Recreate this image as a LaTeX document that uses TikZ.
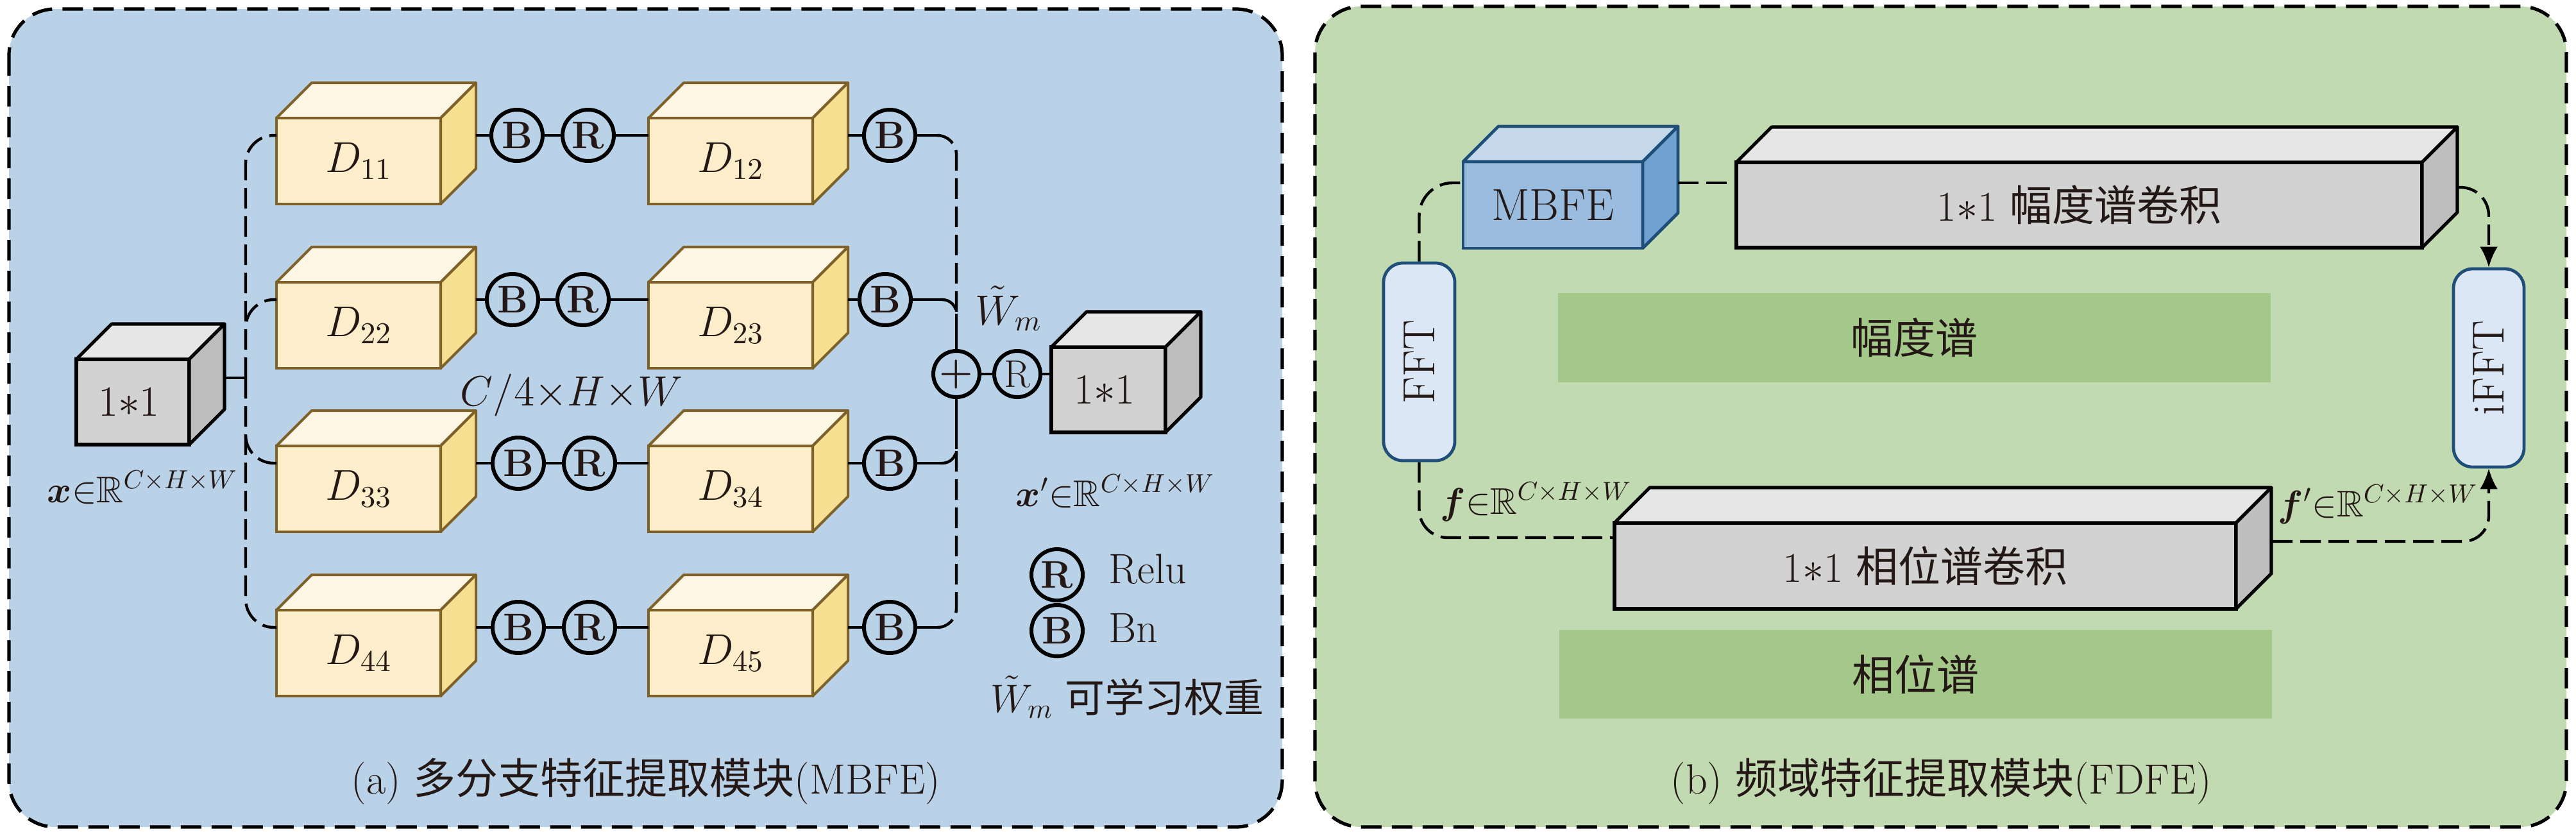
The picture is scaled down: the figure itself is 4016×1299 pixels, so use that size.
\documentclass[tikz,border=0pt]{standalone}
\usepackage{fix-cm}
\usepackage{amsmath,amssymb,bm}
\usepackage{graphicx}
\usepackage{fontspec}
\newfontfamily\cjk{Noto Sans CJK SC}
\usetikzlibrary{arrows.meta,calc}

\definecolor{tcol}{HTML}{231815}
\definecolor{bgA}{HTML}{BAD2E7}
\definecolor{bgB}{HTML}{C2DAB1}
\definecolor{bandc}{HTML}{A4C88A}
\definecolor{yfront}{HTML}{FCEECB}
\definecolor{ytop}{HTML}{FDF6E4}
\definecolor{yside}{HTML}{F6DF91}
\definecolor{ybord}{HTML}{7E6029}
\definecolor{gfront}{HTML}{D2D2D2}
\definecolor{gtop}{HTML}{E6E6E6}
\definecolor{gside}{HTML}{BEBEBE}
\definecolor{bfront}{HTML}{9ABCDF}
\definecolor{btop}{HTML}{C6D9EC}
\definecolor{bside}{HTML}{71A1D0}
\definecolor{bbord}{HTML}{1F4E79}
\definecolor{fftc}{HTML}{DBE7F4}

\newcommand{\fD}{\fontsize{16.8pt}{19pt}\selectfont}
\newcommand{\fM}{\fontsize{14.5pt}{17pt}\selectfont}
\newcommand{\fC}{\fontsize{16.5pt}{19pt}\selectfont}

\newcommand{\mycube}[6]{%
  \node[#5front, minimum width=#3, minimum height=#4] (#1) at #2 {#6};
  \filldraw[#5top] (#1.north west) -- ++(55,-55) -- ($(#1.north east)+(55,-55)$) -- (#1.north east) -- cycle;
  \filldraw[#5side] (#1.north east) -- ($(#1.north east)+(55,-55)$) -- ($(#1.south east)+(55,-55)$) -- (#1.south east) -- cycle;
}

\begin{document}
\begin{tikzpicture}[x=0.25pt,y=-0.25pt,
  every node/.append style={text=tcol},
  conn/.style={line width=1.1pt, draw=black},
  dconn/.style={conn, dash pattern=on 8pt off 3pt},
  arr/.style={-{Latex[length=8pt,width=7pt]}},
  panel/.style={line width=1.3pt, draw=black, dash pattern=on 8pt off 4pt, rounded corners=18pt},
  yelfront/.style={draw=ybord, fill=yfront, line width=1pt, inner sep=0pt, outer sep=0pt, font=\fD},
  yeltop/.style={draw=ybord, fill=ytop, line width=1pt, line join=round},
  yelside/.style={draw=ybord, fill=yside, line width=1pt, line join=round},
  grayfront/.style={draw=black, fill=gfront, line width=1.3pt, inner sep=0pt, outer sep=0pt, font=\fD},
  graytop/.style={draw=black, fill=gtop, line width=1.3pt, line join=round},
  grayside/.style={draw=black, fill=gside, line width=1.3pt, line join=round},
  bluefront/.style={draw=bbord, fill=bfront, line width=1.2pt, inner sep=0pt, outer sep=0pt, font=\fontsize{17.5pt}{20pt}\selectfont},
  bluetop/.style={draw=bbord, fill=btop, line width=1.2pt, line join=round},
  blueside/.style={draw=bbord, fill=bside, line width=1.2pt, line join=round},
  bc/.style={circle, draw=black, line width=1.5pt, minimum size=20pt, inner sep=0pt, font=\fontsize{15pt}{15pt}\selectfont\bfseries},
  band/.style={fill=bandc, inner sep=0pt, font=\fC\cjk},
  fftbox/.style={draw=bbord, fill=fftc, line width=1.2pt, rounded corners=7.5pt, inner sep=0pt, font=\fontsize{17.5pt}{20pt}\selectfont},
  lbl/.style={inner sep=0pt, font=\fC},
  mlbl/.style={inner sep=0pt, font=\fM}
]
\useasboundingbox (0,0) rectangle (4016,1299);

% panels
\draw[panel, fill=bgA] (14,14) rectangle (1999,1289);
\draw[panel, fill=bgB] (2050,10) rectangle (4001,1289);

% ===== left panel =====
\mycube{inp}{(207,626.5)}{44pt}{33.25pt}{gray}{1$*$1\hspace*{3pt}}

\mycube{dA1}{(559,251)}{64pt}{33.5pt}{yel}{$D_{11}$}
\mycube{dA2}{(559,507)}{64pt}{33.5pt}{yel}{$D_{22}$}
\mycube{dA3}{(559,762)}{64pt}{33.5pt}{yel}{$D_{33}$}
\mycube{dA4}{(559,1018)}{64pt}{33.5pt}{yel}{$D_{44}$}
\mycube{dB1}{(1139,251)}{64pt}{33.5pt}{yel}{$D_{12}$}
\mycube{dB2}{(1139,507)}{64pt}{33.5pt}{yel}{$D_{23}$}
\mycube{dB3}{(1139,762)}{64pt}{33.5pt}{yel}{$D_{34}$}
\mycube{dB4}{(1139,1018)}{64pt}{33.5pt}{yel}{$D_{45}$}

\mycube{outc}{(1728,607.5)}{44.5pt}{33.25pt}{gray}{1$*$1\hspace*{3pt}}

% circles
\node[bc] (b1a) at (806,211) {B};
\node[bc] (r1a) at (917,211) {R};
\node[bc] (b1b) at (1387,211) {B};
\node[bc] (b2a) at (799,467) {B};
\node[bc] (r2a) at (909,467) {R};
\node[bc] (b2b) at (1380,467) {B};
\node[bc] (b3a) at (808,722) {B};
\node[bc] (r3a) at (919,722) {R};
\node[bc] (b3b) at (1387,722) {B};
\node[bc] (b4a) at (808,978) {B};
\node[bc] (r4a) at (919,978) {R};
\node[bc] (b4b) at (1387,978) {B};

\node[bc, minimum size=18pt] (plus) at (1491,583) {$\bm{+}$};
\node[bc, minimum size=18pt, font=\fontsize{15pt}{15pt}\selectfont] (rout) at (1586,583) {R};

% coordinates
\coordinate (ins) at (351,589);
\coordinate (jin) at (383,589);
\coordinate (sA1) at (742,211);
\coordinate (sA2) at (742,467);
\coordinate (sA3) at (742,722);
\coordinate (sA4) at (742,978);
\coordinate (sB1) at (1322,211);
\coordinate (sB2) at (1322,467);
\coordinate (sB3) at (1322,722);
\coordinate (sB4) at (1322,978);
\coordinate (m1) at (1465,211);
\coordinate (m2) at (1465,467);
\coordinate (m3) at (1465,722);
\coordinate (m4) at (1465,978);
\coordinate (pt2) at (1491,489);
\coordinate (pb3) at (1491,700);

% input to branches
\draw[conn] (ins) -- (jin);
\draw[dconn, rounded corners=11pt] (jin) |- (dA1.west |- b1a);
\draw[dconn, rounded corners=11pt] (jin) |- (dA2.west |- b2a);
\draw[dconn, rounded corners=11pt] (jin) |- (dA3.west |- b3a);
\draw[dconn, rounded corners=11pt] (jin) |- (dA4.west |- b4a);

% rows
\foreach \i in {1,2,3,4}{
  \draw[conn] (sA\i) -- (b\i a);
  \draw[conn] (b\i a) -- (r\i a);
  \draw[conn] (r\i a) -- (dB\i.west |- r\i a);
  \draw[conn] (sB\i) -- (b\i b);
  \draw[conn] (b\i b) -- (m\i);
}

% merge
\draw[dconn, rounded corners=7.5pt] (m1) -| (pt2);
\draw[dconn, rounded corners=5.5pt] (m2) -| (pt2);
\draw[conn] (pt2) -- (plus);
\draw[conn] (plus) -- (pb3);
\draw[dconn, rounded corners=5.5pt] (m3) -| (pb3);
\draw[dconn, rounded corners=7.5pt] (m4) -| (pb3);
\draw[conn] (plus) -- (rout);
\draw[conn] (rout) -- (outc.west |- rout);

% labels
\node[lbl, anchor=base west] (cdim) at (717,632) {$C/4{\times}H{\times}W$};
\node[lbl, anchor=base west] (wm) at (1520,506) {$\tilde{W}_{m}$};
\node[mlbl, anchor=base west] (xin) at (73,783) {$\bm{x}{\in}\mathbb{R}^{C\times H\times W}$};
\node[mlbl, anchor=base west] (xout) at (1583,789) {$\bm{x}'{\in}\mathbb{R}^{C\times H\times W}$};

\node[bc] (lr) at (1648,896) {R};
\node[lbl, anchor=west] (lrt) at (1728,887) {Relu};
\node[bc] (lb) at (1648,983) {B};
\node[lbl, anchor=west] (lbt) at (1728,979) {Bn};
\node[lbl, anchor=base west, font=\fontsize{15.5pt}{18pt}\selectfont] (lw) at (1544,1110) {$\tilde{W}_{m}$ {\cjk 可学习权重}};

\node[lbl] (capA) at (1007,1218) {(a) {\cjk 多分支特征提取模块}(MBFE)};

% ===== right panel =====
\node[band, minimum width=277.75pt, minimum height=34.75pt] (ampb) at (2984.5,526.5) {幅度谱};
\node[band, minimum width=277.75pt, minimum height=34.5pt] (phb) at (2986.5,1051) {相位谱};

\mycube{mbfe}{(2421,319.5)}{70pt}{33.75pt}{blue}{MBFE}
\mycube{amp}{(3241.5,319.5)}{267.25pt}{33.25pt}{gray}{\fC 1$*$1 {\cjk 幅度谱卷积}}
\mycube{phase}{(3001.5,882)}{242.25pt}{33.5pt}{gray}{\fC 1$*$1 {\cjk 相位谱卷积}}

\node[fftbox, minimum width=27.75pt, minimum height=77pt] (fft) at (2212.5,564) {\rotatebox{90}{FFT}};
\node[fftbox, minimum width=27.5pt, minimum height=77.25pt] (ifft) at (3880,573.5) {\rotatebox{90}{iFFT}};

\coordinate (mbs) at (2616,285);
\coordinate (phl) at (2517,838);
\coordinate (ams) at (3831,292);
\coordinate (phs) at (3542,844);

\draw[dconn] (mbs) -- (amp.west |- mbs);
\draw[dconn, rounded corners=13pt] (fft.north) |- (mbfe.west |- mbs);
\draw[dconn, rounded corners=11pt] (fft.south) |- (phl);
\draw[dconn, arr, rounded corners=11pt] (ams) -| (ifft.north);
\draw[dconn, arr, rounded corners=10pt] (phs) -| (ifft.south);

\node[mlbl, anchor=base west] (fin) at (2245,801) {$\bm{f}{\in}\mathbb{R}^{C\times H\times W}$};
\node[mlbl, anchor=base west] (fout) at (3551,805) {$\bm{f}'{\in}\mathbb{R}^{C\times H\times W}$};

\node[lbl] (capB) at (3026,1218) {(b) {\cjk 频域特征提取模块}(FDFE)};
\end{tikzpicture}
\end{document}
